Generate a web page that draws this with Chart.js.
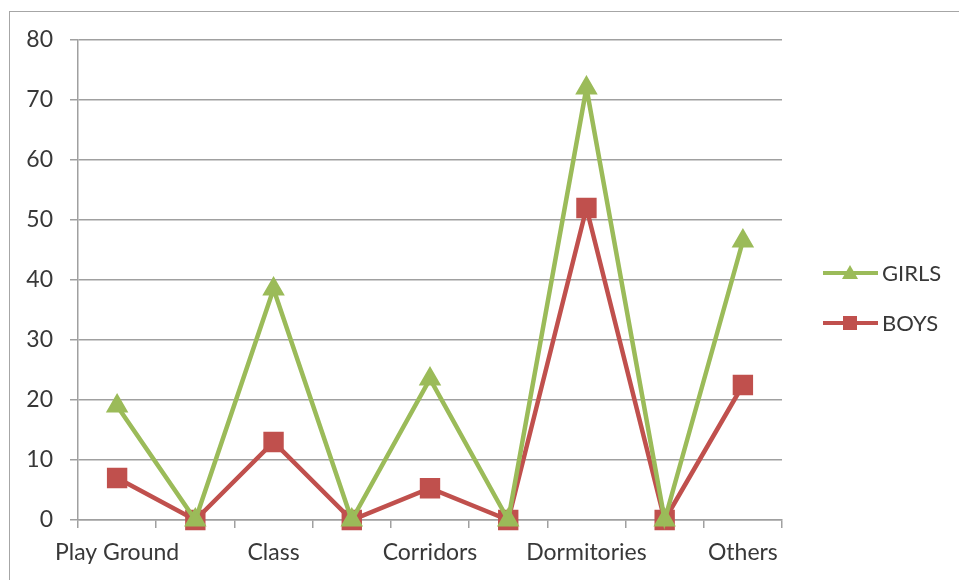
<!DOCTYPE html>
<html>
<head>
<meta charset="utf-8">
<script src="https://cdn.jsdelivr.net/npm/chart.js@4.4.1/dist/chart.umd.min.js"></script>
<style>
    html, body { margin: 0; padding: 0; background: #fff; overflow: hidden; }
    #wrap { position: relative; width: 959px; height: 580px; }
    #frame {
        position: absolute; left: 9px; top: 11px; width: 960px; height: 580px;
        border-left: 1px solid #a6a6a6; border-top: 1px solid #a6a6a6;
        pointer-events: none;
    }
</style>
</head>
<body>
<div id="wrap">
    <canvas id="chart" width="959" height="580"></canvas>
    <div id="frame"></div>
</div>
<script>
// Data
const categories = ['Play Ground', '', 'Class', '', 'Corridors', '', 'Dormitories', '', 'Others'];
const girls = [19, 0, 38.5, 0, 23.5, 0, 72, 0, 46.5];
const boys = [7, 0, 13, 0, 5.3, 0, 52, 0, 22.5];
const yMin = 0;
const yMax = 80;
const yStep = 10;

const green = '#9bbb59';
const red = '#c0504d';
const gridColor = '#a0a0a0';
const textColor = '#383838';
const fontFamily = 'Lato, "Open Sans", sans-serif';

// Legend on the right: line sample with marker, then label
const sideLegend = {
    id: 'sideLegend',
    afterDraw(chart) {
        const ctx = chart.ctx;
        chart.data.datasets.forEach((ds, i) => {
            const y = 273 + i * 50;
            const cx = 850;
            ctx.save();
            ctx.strokeStyle = ds.borderColor;
            ctx.lineWidth = 4;
            ctx.beginPath();
            ctx.moveTo(823, y);
            ctx.lineTo(878, y);
            ctx.stroke();
            ctx.fillStyle = ds.borderColor;
            ctx.beginPath();
            if (ds.pointStyle === 'triangle') {
                ctx.moveTo(cx, y - 8);
                ctx.lineTo(cx + 8, y + 6);
                ctx.lineTo(cx - 8, y + 6);
            } else {
                ctx.rect(cx - 7, y - 7, 14, 14);
            }
            ctx.closePath();
            ctx.fill();
            ctx.fillStyle = textColor;
            ctx.font = '22px ' + fontFamily;
            ctx.textBaseline = 'middle';
            ctx.textAlign = 'left';
            ctx.fillText(ds.label, 882, y + 1);
            ctx.restore();
        });
    }
};

new Chart(document.getElementById('chart'), {
    type: 'line',
    data: {
        labels: categories,
        datasets: [
            {
                label: 'GIRLS',
                data: girls,
                borderColor: green,
                backgroundColor: green,
                borderWidth: 4.5,
                pointStyle: 'triangle',
                pointRadius: 11,
                pointBorderWidth: 2,
                tension: 0,
                clip: false
            },
            {
                label: 'BOYS',
                data: boys,
                borderColor: red,
                backgroundColor: red,
                borderWidth: 4.5,
                pointStyle: 'rect',
                pointRadius: 13,
                pointBorderWidth: 2,
                tension: 0,
                clip: false
            }
        ]
    },
    options: {
        responsive: false,
        animation: false,
        layout: { padding: { top: 40, right: 177, left: 0, bottom: 0 } },
        plugins: {
            legend: { display: false },
            tooltip: { enabled: false }
        },
        scales: {
            x: {
                offset: true,
                grid: {
                    offset: true,
                    drawOnChartArea: false,
                    color: gridColor,
                    lineWidth: 1.5,
                    tickLength: 8
                },
                border: { color: gridColor, width: 1.5 },
                ticks: {
                    autoSkip: false,
                    maxRotation: 0,
                    padding: 11,
                    color: textColor,
                    font: { family: fontFamily, size: 23 }
                },
                afterFit: (scale) => { scale.height = 60; }
            },
            y: {
                min: yMin,
                max: yMax,
                ticks: {
                    stepSize: yStep,
                    padding: 17,
                    color: textColor,
                    font: { family: fontFamily, size: 23 }
                },
                grid: {
                    color: gridColor,
                    lineWidth: 1.5,
                    tickLength: 8
                },
                border: { color: gridColor, width: 1.5 },
                afterFit: (scale) => { scale.width = 78; }
            }
        }
    },
    plugins: [sideLegend]
});
</script>
</body>
</html>
